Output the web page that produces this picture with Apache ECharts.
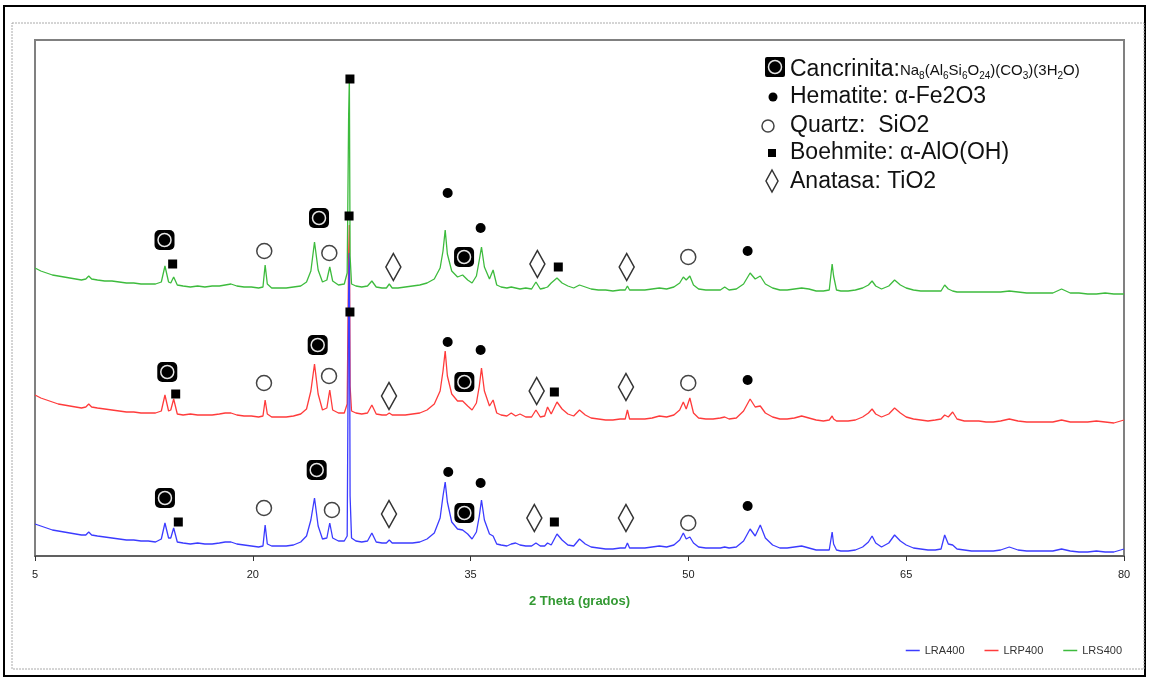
<!DOCTYPE html>
<html>
<head>
<meta charset="utf-8">
<script src="https://cdn.jsdelivr.net/npm/echarts@6/dist/echarts.min.js"></script>
<style>
  html, body { margin: 0; padding: 0; background: #fff; }
  #chart { width: 1149px; height: 681px; }
</style>
</head>
<body>
<div id="chart"></div>
<script>
// 2 theta (grados)
const theta = [
  5.0, 5.4, 5.8, 6.2, 6.6, 7.0, 7.4, 7.8, 8.2, 8.5,
  8.7, 8.9, 9.3, 9.8, 10.3, 10.8, 11.3, 11.8, 12.3, 12.8,
  13.3, 13.7, 13.95, 14.2, 14.35, 14.55, 14.8, 15.2, 15.7, 16.2,
  16.7, 17.2, 17.7, 18.1, 18.5, 18.9, 19.4, 19.9, 20.4, 20.7,
  20.85, 21.0, 21.3, 21.8, 22.3, 22.8, 23.3, 23.7, 24.0, 24.25,
  24.5, 24.8, 25.1, 25.3, 25.5, 25.9, 26.3, 26.5, 26.6, 26.65,
  26.7, 26.8, 27.1, 27.5, 27.9, 28.2, 28.5, 28.9, 29.2, 29.4,
  29.6, 30.0, 30.5, 31.0, 31.5, 32.0, 32.5, 32.9, 33.1, 33.25,
  33.4, 33.7, 34.1, 34.45, 34.8, 35.1, 35.4, 35.6, 35.75, 35.95,
  36.3, 36.55, 36.8, 37.1, 37.5, 37.8, 38.1, 38.4, 38.8, 39.2,
  39.5, 39.8, 40.1, 40.3, 40.55, 40.95, 41.3, 41.7, 42.1, 42.5,
  42.9, 43.3, 43.8, 44.3, 44.8, 45.3, 45.65, 45.8, 45.95, 46.5,
  47.0, 47.5, 48.0, 48.5, 49.0, 49.4, 49.65, 49.85, 50.1, 50.35,
  50.7, 51.2, 51.7, 52.2, 52.5, 52.8, 53.3, 53.8, 54.25, 54.6,
  54.95, 55.3, 55.8, 56.3, 56.8, 57.3, 57.8, 58.3, 58.8, 59.3,
  59.7, 59.9, 60.0, 60.2, 60.5, 61.0, 61.5, 62.0, 62.4, 62.65,
  62.9, 63.3, 63.8, 64.2, 64.6, 65.0, 65.5, 66.0, 66.5, 67.0,
  67.4, 67.65, 67.9, 68.2, 68.5, 69.0, 69.5, 70.0, 70.5, 71.0,
  71.5, 72.1, 72.7, 73.3, 73.9, 74.5, 75.1, 75.7, 76.3, 76.9,
  77.5, 78.1, 78.7, 79.3, 80.0
];

// intensidad (con desplazamiento vertical de cada muestra)
const lra400 = [
  32, 30, 28, 26, 25, 24, 23, 22, 21, 21,
  24, 21, 20, 19, 18, 17, 16, 16, 15, 15,
  14, 17, 33, 18, 18, 28, 14, 13, 12, 13,
  12, 12, 13, 14, 14, 12, 11, 10, 9, 10,
  31, 12, 10, 10, 10, 11, 14, 20, 36, 58,
  30, 17, 18, 33, 18, 15, 15, 20, 260, 303,
  60, 18, 15, 14, 15, 23, 14, 13, 13, 16,
  13, 13, 13, 13, 14, 17, 23, 38, 60, 74,
  54, 34, 27, 26, 22, 17, 24, 40, 56, 36,
  22, 20, 12, 11, 10, 12, 13, 11, 10, 10,
  13, 10, 10, 13, 11, 22, 16, 11, 10, 17,
  12, 9, 8, 7, 7, 8, 8, 13, 8, 8,
  8, 9, 10, 9, 11, 16, 23, 17, 19, 13,
  9, 8, 8, 8, 9, 8, 9, 15, 27, 20,
  31, 18, 11, 8, 8, 9, 10, 8, 6, 6,
  6, 24, 12, 6, 5, 5, 6, 9, 14, 20,
  13, 9, 13, 21, 15, 11, 8, 7, 6, 6,
  7, 21, 12, 11, 7, 6, 5, 5, 5, 5,
  6, 9, 6, 5, 5, 5, 5, 7, 5, 4,
  4, 5, 4, 4, 7
];
const lrp400 = [
  161, 158, 156, 154, 152, 151, 150, 149, 148, 149,
  152, 149, 148, 147, 146, 145, 144, 144, 143, 143,
  143, 145, 161, 145, 146, 157, 142, 141, 142, 141,
  141, 141, 142, 143, 143, 141, 140, 140, 139, 140,
  156, 142, 139, 139, 139, 140, 142, 147, 165, 192,
  162, 146, 148, 166, 146, 143, 143, 152, 300, 331,
  170, 145, 143, 142, 143, 151, 142, 141, 141, 143,
  141, 141, 141, 142, 143, 146, 152, 165, 185, 205,
  180, 162, 155, 155, 150, 146, 153, 170, 188, 165,
  150, 156, 143, 141, 140, 143, 140, 142, 139, 139,
  146, 139, 140, 149, 142, 154, 147, 142, 140, 146,
  141, 138, 137, 136, 136, 137, 137, 146, 137, 137,
  137, 138, 140, 139, 141, 146, 154, 147, 158, 143,
  138, 137, 137, 138, 139, 137, 138, 145, 157, 149,
  150, 143, 139, 137, 137, 138, 140, 138, 136, 135,
  136, 140, 137, 135, 135, 135, 136, 139, 143, 147,
  142, 139, 142, 148, 143, 139, 137, 136, 135, 136,
  137, 141, 139, 144, 137, 135, 135, 135, 134, 134,
  135, 137, 135, 134, 134, 134, 134, 136, 134, 134,
  134, 135, 134, 133, 136
];
const lrs400 = [
  288, 285, 283, 281, 280, 279, 278, 277, 276, 277,
  280, 277, 276, 275, 275, 274, 273, 273, 272, 272,
  272, 274, 290, 274, 273, 279, 271, 270, 269, 270,
  269, 270, 270, 271, 272, 270, 269, 269, 268, 269,
  291, 272, 268, 268, 268, 269, 270, 274, 285, 314,
  286, 274, 276, 289, 275, 271, 272, 283, 440, 478,
  300, 272, 270, 269, 270, 275, 269, 268, 268, 272,
  268, 268, 269, 270, 271, 273, 277, 288, 305, 326,
  302, 285, 279, 281, 276, 273, 280, 296, 309, 289,
  277, 286, 271, 269, 268, 269, 268, 267, 268, 267,
  274, 267, 268, 269, 273, 278, 273, 270, 268, 271,
  269, 267, 266, 266, 265, 266, 266, 270, 266, 266,
  266, 267, 268, 267, 269, 273, 279, 276, 280, 271,
  267, 266, 266, 266, 269, 266, 267, 272, 283, 277,
  280, 272, 268, 266, 266, 267, 268, 267, 265, 265,
  266, 292, 280, 266, 265, 265, 266, 268, 271, 275,
  270, 267, 270, 276, 271, 268, 266, 265, 265, 265,
  265, 271, 267, 265, 264, 264, 264, 264, 264, 264,
  264, 265, 264, 263, 263, 263, 263, 267, 263, 263,
  262, 262, 263, 262, 262
];

// marcas de fases [2theta, altura]
const cancrinitaPts = [[13.92, 316], [24.56, 338], [34.55, 299], [14.11, 184], [24.47, 211], [34.57, 174], [13.95, 58], [24.4, 86], [34.57, 43]];
const hematitePts = [[33.42, 363], [35.69, 328], [54.08, 305], [33.42, 214], [35.69, 206], [54.08, 176], [33.46, 84], [35.69, 73], [54.08, 50]];
const quartzPts = [[20.79, 305], [25.27, 303], [49.99, 299], [20.77, 173], [25.25, 180], [49.99, 173], [20.77, 48], [25.45, 46], [49.99, 33]];
const boehmitePts = [[14.48, 292], [26.69, 477], [41.04, 289], [14.69, 162], [26.63, 340], [40.77, 164], [14.87, 34], [26.69, 244], [40.77, 34]];
const anatasePts = [[29.68, 289], [39.6, 292], [45.75, 289], [29.38, 160], [39.55, 165], [45.7, 169], [29.38, 42], [39.39, 38], [45.7, 38]];

const xTicks = [5, 20, 35, 50, 65, 80];
const sampleNames = ["LRA400", "LRP400", "LRS400"];

function pairs(vals) {
  return theta.map((t, i) => [t, vals[i]]);
}

let myChart = echarts.init(document.getElementById("chart"));

const font = "'Liberation Sans', Arial, sans-serif";

function lineSeries(name, vals, color, z) {
  return {
    name: name,
    type: "line",
    data: pairs(vals),
    showSymbol: false,
    symbol: "none",
    z: z,
    lineStyle: { color: color, width: 1.3 },
    itemStyle: { color: color },
    silent: true
  };
}

function markSeries(data, symbol, size, itemStyle) {
  itemStyle.opacity = 1;
  return {
    type: "scatter",
    data: data,
    symbol: symbol,
    symbolSize: size,
    itemStyle: itemStyle,
    z: 10,
    silent: true
  };
}

// leyenda de fases (arriba a la derecha)
const lx = 790;
const phaseLegend = [
  { type: "rect", shape: { x: 765, y: 57, width: 20, height: 20, r: 2 }, style: { fill: "#000" } },
  { type: "circle", shape: { cx: 775, cy: 67, r: 6.5 }, style: { fill: "#000", stroke: "#e6e6e6", lineWidth: 1.5 } },
  {
    type: "text", x: lx, y: 81,
    style: {
      text: "{big|Cancrinita:}{sm|Na}{sub|8}{sm|(Al}{sub|6}{sm|Si}{sub|6}{sm|O}{sub|24}{sm|)(CO}{sub|3}{sm|)(3H}{sub|2}{sm|O)}",
      textVerticalAlign: "bottom",
      fill: "#111",
      rich: {
        big: { fontSize: 23, fontFamily: font, lineHeight: 27, verticalAlign: "bottom", fill: "#111" },
        sm: { fontSize: 15, fontFamily: font, lineHeight: 17, verticalAlign: "bottom", padding: [0, 0, 3, 0], fill: "#111" },
        sub: { fontSize: 10, fontFamily: font, lineHeight: 11, verticalAlign: "bottom", fill: "#111" }
      }
    }
  },
  { type: "circle", shape: { cx: 773, cy: 97, r: 4.5 }, style: { fill: "#000" } },
  { type: "text", x: lx, y: 97, style: { text: "Hematite: α-Fe2O3", font: "23px " + font, fill: "#111", textVerticalAlign: "middle" } },
  { type: "circle", shape: { cx: 768, cy: 126, r: 6 }, style: { fill: "#fff", stroke: "#444", lineWidth: 1.5 } },
  { type: "text", x: lx, y: 126, style: { text: "Quartz:  SiO2", font: "23px " + font, fill: "#111", textVerticalAlign: "middle" } },
  { type: "rect", shape: { x: 768, y: 149, width: 8, height: 8 }, style: { fill: "#000" } },
  { type: "text", x: lx, y: 153, style: { text: "Boehmite: α-AlO(OH)", font: "23px " + font, fill: "#111", textVerticalAlign: "middle" } },
  { type: "polygon", shape: { points: [[772, 170], [778, 181], [772, 192], [766, 181]] }, style: { fill: "#fff", stroke: "#333", lineWidth: 1.5 } },
  { type: "text", x: lx, y: 182, style: { text: "Anatasa: TiO2", font: "23px " + font, fill: "#111", textVerticalAlign: "middle" } }
];

// marcos exteriores
const frames = [
  { type: "rect", shape: { x: 4, y: 6, width: 1141, height: 670 }, style: { fill: null, stroke: "#000", lineWidth: 2 }, z: -1 },
  { type: "rect", shape: { x: 12, y: 23, width: 1132, height: 646 }, style: { fill: null, stroke: "#aaa", lineWidth: 1, lineDash: [2, 1] }, z: -1 }
];

let opts = {
  animation: false,
  backgroundColor: "#fff",
  grid: {
    left: 35, right: 25, top: 40, bottom: 125,
    show: true, borderColor: "#808080", borderWidth: 2
  },
  legend: {
    data: sampleNames,
    right: 22,
    top: 640,
    icon: "rect",
    itemWidth: 14,
    itemHeight: 1.5,
    itemGap: 20,
    selectedMode: false,
    textStyle: { fontSize: 11, fontFamily: font, color: "#333" }
  },
  xAxis: {
    type: "value",
    min: xTicks[0],
    max: xTicks[xTicks.length - 1],
    interval: 15,
    name: "2 Theta (grados)",
    nameLocation: "middle",
    nameGap: 39,
    nameTextStyle: { color: "#339933", fontWeight: "bold", fontSize: 13, fontFamily: font },
    axisLine: { lineStyle: { color: "#555", width: 1.5 } },
    axisTick: { length: 5, lineStyle: { color: "#333" } },
    axisLabel: { color: "#222", fontSize: 11, fontFamily: font, margin: 13 },
    splitLine: { show: false }
  },
  yAxis: {
    type: "value",
    min: 0,
    max: 516,
    show: false
  },
  graphic: frames.concat(phaseLegend),
  series: [
    lineSeries(sampleNames[0], lra400, "#3b3bff", 3),
    lineSeries(sampleNames[1], lrp400, "#ff3b3b", 2),
    lineSeries(sampleNames[2], lrs400, "#3dbb3d", 4),
    markSeries(cancrinitaPts, "roundRect", 20, { color: "#000" }),
    markSeries(cancrinitaPts, "circle", 13, { color: "#000", borderColor: "#e6e6e6", borderWidth: 1.5 }),
    markSeries(hematitePts, "circle", 10, { color: "#000" }),
    markSeries(quartzPts, "circle", 15, { color: "#fff", borderColor: "#444", borderWidth: 1.5 }),
    markSeries(boehmitePts, "rect", 9, { color: "#000" }),
    markSeries(anatasePts, "diamond", [15, 27], { color: "#fff", borderColor: "#333", borderWidth: 1.6 })
  ]
};

myChart.setOption(opts);
</script>
</body>
</html>
